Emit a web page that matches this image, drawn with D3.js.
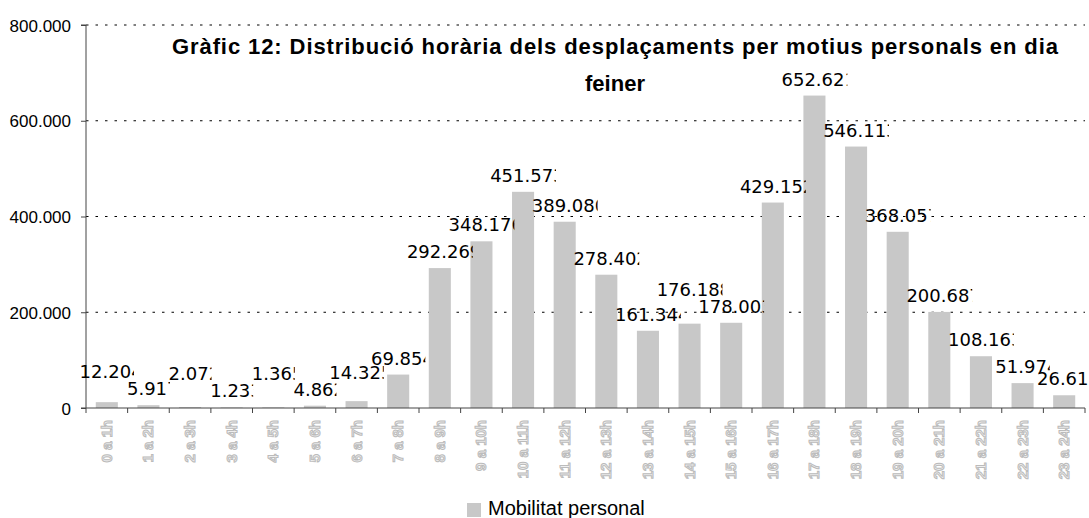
<!DOCTYPE html>
<html>
<head>
<meta charset="utf-8">
<script src="https://cdn.jsdelivr.net/npm/d3@7"></script>
<style>
  body { margin: 0; background: #fff; }
  svg { display: block; }
</style>
</head>
<body>
<svg id="chart" width="1089" height="518"></svg>
<script>
"use strict";

var categories = ['0 a 1h', '1 a 2h', '2 a 3h', '3 a 4h', '4 a 5h', '5 a 6h',
  '6 a 7h', '7 a 8h', '8 a 9h', '9 a 10h', '10 a 11h', '11 a 12h',
  '12 a 13h', '13 a 14h', '14 a 15h', '15 a 16h', '16 a 17h', '17 a 18h',
  '18 a 19h', '19 a 20h', '20 a 21h', '21 a 22h', '22 a 23h', '23 a 24h'];
var values = [12204, 5917, 2072, 1233, 1365, 4862, 14325, 69854,
  292269, 348176, 451573, 389080, 278402, 161344, 176188, 178003,
  429152, 652621, 546113, 368057, 200687, 108163, 51974, 26613];
var yTicks = [0, 200000, 400000, 600000, 800000];
var titleLines = ['Gràfic 12: Distribució horària dels desplaçaments per motius personals en dia', 'feiner'];
var seriesName = 'Mobilitat personal';

var fmt = d3.formatLocale({ decimal: ',', thousands: '.', grouping: [3], currency: ['', '€'] }).format(',d');

var svg = d3.select('#chart');
var plotL = 86, plotR = 1085, plotT = 25, plotB = 408;

var X = d3.scaleBand().domain(categories).range([plotL, plotR])
  .paddingInner(0.47).paddingOuter(0.235);
var Y = d3.scaleLinear().domain([0, 800000]).range([plotB, plotT]);

// gridlines
svg.append('g').selectAll('line')
  .data(yTicks.filter(function (d) { return d > 0; }))
  .join('line')
  .attr('x1', plotL).attr('x2', plotR)
  .attr('y1', function (d) { return Y(d); }).attr('y2', function (d) { return Y(d); })
  .attr('stroke', '#000').attr('stroke-width', 1)
  .attr('stroke-dasharray', '2.5,7');

// bars
svg.append('g').selectAll('rect')
  .data(values)
  .join('rect')
  .attr('x', function (d, i) { return X(categories[i]); })
  .attr('y', function (d) { return Y(d); })
  .attr('width', X.bandwidth())
  .attr('height', function (d) { return Y(0) - Y(d); })
  .attr('fill', '#c8c8c8');

// y axis
var yaxis = d3.axisLeft(Y).tickValues(yTicks).tickSize(5).tickPadding(10)
  .tickFormat(function (d) { return fmt(d); });
var gy = svg.append('g').attr('transform', 'translate(' + plotL + ',0)').call(yaxis);
gy.select('.domain').attr('stroke', '#444').attr('d', 'M-5,' + plotT + 'H0V' + plotB + 'H-5');
gy.selectAll('.tick line').attr('stroke', '#444');
gy.selectAll('.tick text')
  .attr('font-family', '"Liberation Sans", Arial, sans-serif')
  .attr('font-size', 17).attr('fill', '#000').attr('dy', '0.36em');

// x axis
svg.append('line')
  .attr('x1', plotL).attr('x2', plotR).attr('y1', plotB).attr('y2', plotB)
  .attr('stroke', '#444');
var step = X.step();
svg.append('g').selectAll('line')
  .data(d3.range(categories.length + 1))
  .join('line')
  .attr('x1', function (i) { return plotL + i * step; })
  .attr('x2', function (i) { return plotL + i * step; })
  .attr('y1', plotB).attr('y2', plotB + 5)
  .attr('stroke', '#444');

svg.append('g').selectAll('text')
  .data(categories)
  .join('text')
  .attr('transform', function (d) {
    return 'translate(' + (X(d) + X.bandwidth() / 2 + 5) + ',' + (plotB + 12) + ') rotate(-90)';
  })
  .attr('text-anchor', 'end')
  .attr('font-family', '"Liberation Sans", Arial, sans-serif')
  .attr('font-weight', 'bold')
  .attr('font-size', 15)
  .attr('fill', '#efefef')
  .attr('stroke', '#bbbbbb')
  .attr('stroke-width', 1)
  .text(function (d) { return d; });

// data labels (clipped like the original), placed smallest bar first;
// a label that hits a neighbour is lifted above it
var defs = svg.append('defs');
var lab = svg.append('g');
var boxes = values.map(function (v, i) {
  var cx = X(categories[i]) + X.bandwidth() / 2;
  var t = lab.append('text')
    .attr('font-family', '"DejaVu Sans", sans-serif')
    .attr('font-size', 18)
    .attr('fill', '#000')
    .text(fmt(v));
  var n = t.text().length;
  var full = t.node().getComputedTextLength();
  var part = t.node().getSubStringLength(0, n - 1);
  var vis = part + 0.25 * (full - part);
  return { i: i, t: t, x0: cx - vis / 2, w: vis, base: Y(v) - 10, placed: false };
});
var H = 12;
function hits(a, b, base) {
  if (!b) return false;
  var hx = a.x0 < b.x0 + b.w && b.x0 < a.x0 + a.w;
  return hx && base > b.base - H && base - H < b.base;
}
d3.range(values.length).sort(function (a, b) { return values[a] - values[b]; })
  .forEach(function (i) {
    var b = boxes[i], nb = [boxes[i - 1], boxes[i + 1]];
    var base = b.base;
    var clash = nb.filter(function (o) { return o && o.placed && hits(b, o, base); });
    if (clash.length) {
      base = d3.min(clash, function (o) { return o.base; }) - 17;
      var moved = true;
      while (moved) {
        moved = false;
        nb.forEach(function (o) {
          if (o && hits(b, o, base)) { base = o.base - 17; moved = true; }
        });
      }
    }
    b.base = base;
    b.placed = true;
  });
boxes.forEach(function (b) {
  defs.append('clipPath').attr('id', 'lc' + b.i)
    .append('rect')
    .attr('x', b.x0).attr('y', b.base - 20).attr('width', b.w).attr('height', 26);
  b.t.attr('x', b.x0).attr('y', b.base).attr('clip-path', 'url(#lc' + b.i + ')');
});

// title
svg.append('g').selectAll('text')
  .data(titleLines)
  .join('text')
  .attr('x', 615)
  .attr('y', function (d, i) { return 54 + i * 37; })
  .attr('text-anchor', 'middle')
  .attr('font-family', '"Liberation Sans", Arial, sans-serif')
  .attr('font-weight', 'bold')
  .attr('font-size', 22)
  .attr('fill', '#000')
  .each(function (d, i) {
    if (i === 0) d3.select(this).attr('textLength', 886).attr('lengthAdjust', 'spacing');
  })
  .text(function (d) { return d; });

// legend
var leg = svg.append('g').attr('transform', 'translate(467,503)');
leg.append('rect').attr('width', 14).attr('height', 14).attr('fill', '#c8c8c8');
leg.append('text')
  .attr('x', 21).attr('y', 12)
  .attr('font-family', '"Liberation Sans", Arial, sans-serif')
  .attr('font-size', 20)
  .attr('fill', '#000')
  .text(seriesName);
</script>
</body>
</html>
